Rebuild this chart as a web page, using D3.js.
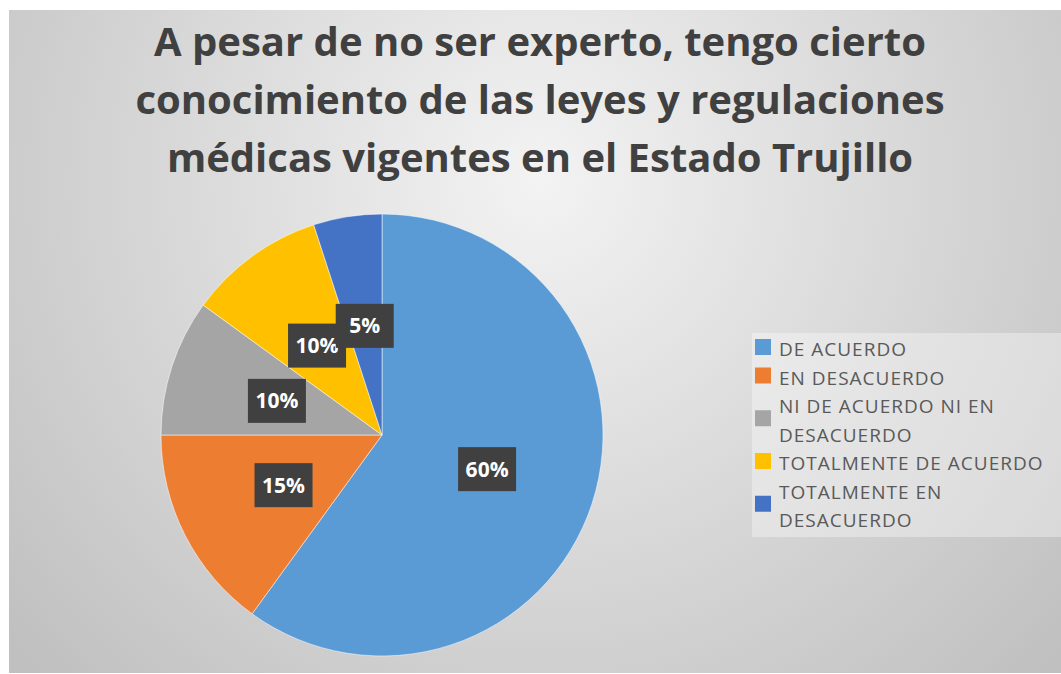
<!DOCTYPE html>
<html>
<head>
<meta charset="utf-8">
<script src="https://cdn.jsdelivr.net/npm/d3@7"></script>
<style>
  body { margin: 0; background: #fff; }
  svg { display: block; }
</style>
</head>
<body>
<script>
const categories = ["DE ACUERDO", "EN DESACUERDO", "NI DE ACUERDO NI EN DESACUERDO",
                    "TOTALMENTE DE ACUERDO", "TOTALMENTE EN DESACUERDO"];
const values = [60, 15, 10, 10, 5];
const colors = ["#5b9bd5", "#ed7d31", "#a5a5a5", "#ffc000", "#4472c4"];
const legendLines = [["DE ACUERDO"], ["EN DESACUERDO"], ["NI DE ACUERDO NI EN", "DESACUERDO"],
                     ["TOTALMENTE DE ACUERDO"], ["TOTALMENTE EN", "DESACUERDO"]];
const titleLines = ["A pesar de no ser experto, tengo cierto",
                    "conocimiento de las leyes y regulaciones",
                    "médicas vigentes en el Estado Trujillo"];

function main() {
  const width = 1061, height = 674;
  const svg = d3.select("body").append("svg")
    .attr("width", width)
    .attr("height", height);

  const defs = svg.append("defs");
  const grad = defs.append("radialGradient")
    .attr("id", "bg")
    .attr("gradientUnits", "userSpaceOnUse")
    .attr("cx", 540).attr("cy", 180).attr("r", 700);
  grad.append("stop").attr("offset", "0%").attr("stop-color", "#f3f3f3");
  grad.append("stop").attr("offset", "100%").attr("stop-color", "#c0c0c0");

  svg.append("rect")
    .attr("x", 9).attr("y", 10)
    .attr("width", width - 9).attr("height", 663)
    .attr("fill", "url(#bg)");

  // title
  svg.append("g")
    .selectAll("text")
    .data(titleLines)
    .join("text")
    .attr("x", 540)
    .attr("y", (d, i) => 56 + i * 58)
    .attr("text-anchor", "middle")
    .attr("font-family", "'Open Sans', sans-serif")
    .attr("font-weight", "bold")
    .attr("font-size", 40)
    .attr("fill", "#404040")
    .text(d => d);

  // pie
  const cx = 382, cy = 435, r = 221;
  const pie = d3.pie().sort(null).value(d => d.v);
  const data = pie(values.map((v, i) => ({v, i})));
  const arc = d3.arc().innerRadius(0).outerRadius(r);
  const labelArc = d3.arc().innerRadius(r / 2).outerRadius(r / 2);

  const g = svg.append("g").attr("transform", `translate(${cx},${cy})`);
  g.selectAll("path")
    .data(data)
    .join("path")
    .attr("d", arc)
    .attr("fill", d => colors[d.data.i])
    .attr("stroke", "#fff")
    .attr("stroke-opacity", 0.5)
    .attr("stroke-width", 1);

  const lab = g.selectAll("g.lab")
    .data(data)
    .join("g")
    .attr("class", "lab")
    .attr("transform", d => `translate(${labelArc.centroid(d)})`);
  lab.append("rect")
    .attr("x", -29).attr("y", -22)
    .attr("width", 58).attr("height", 44)
    .attr("fill", "#404040");
  lab.append("text")
    .attr("text-anchor", "middle")
    .attr("dy", "0.36em")
    .attr("font-family", "'Open Sans', sans-serif")
    .attr("font-weight", "bold")
    .attr("font-size", 21)
    .attr("fill", "#fff")
    .text(d => d3.format(".0%")(d.data.v / d3.sum(values)));

  // legend
  svg.append("rect")
    .attr("x", 752).attr("y", 333)
    .attr("width", width - 752).attr("height", 204)
    .attr("fill", "#fff").attr("fill-opacity", 0.35);

  const lineH = 28.5;
  let row = 0;
  const leg = svg.append("g");
  legendLines.forEach((lines, i) => {
    const y0 = 356 + row * lineH;
    const midBase = y0 + (lines.length - 1) * lineH / 2;
    leg.append("rect")
      .attr("x", 755).attr("y", midBase - 17)
      .attr("width", 16).attr("height", 16)
      .attr("fill", colors[i]);
    lines.forEach((t, j) => {
      leg.append("text")
        .attr("x", 779)
        .attr("y", y0 + j * lineH)
        .attr("font-family", "'Open Sans', sans-serif")
        .attr("font-size", 19)
        .attr("letter-spacing", 1)
        .attr("fill", "#595959")
        .text(t);
    });
    row += lines.length;
  });
}

window.addEventListener("load", main);
</script>
</body>
</html>
